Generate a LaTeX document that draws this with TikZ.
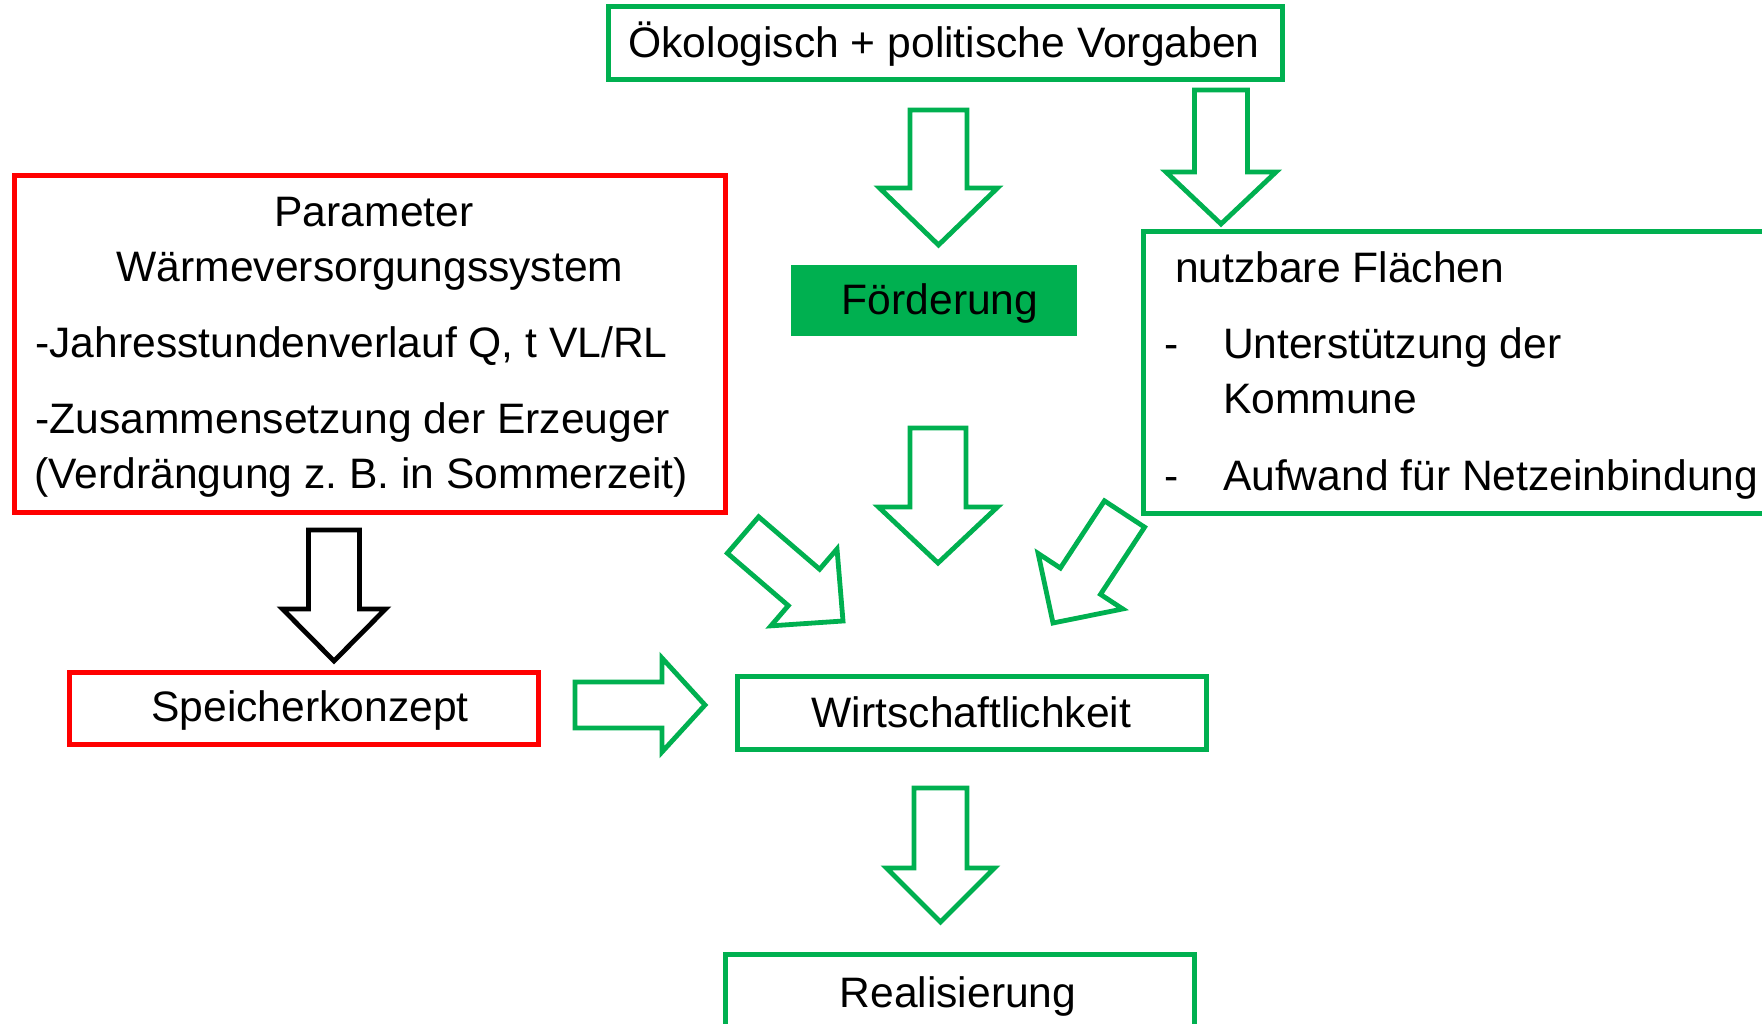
\documentclass[tikz,border=0pt]{standalone}
\usepackage{fontspec}
\setmainfont{Liberation Sans}
\usetikzlibrary{calc}
\definecolor{pgreen}{HTML}{00B050}
\definecolor{pred}{HTML}{FF0000}
\newcommand\blockarrow[6]{% #1 style, #2 tail, #3 tip, #4 shaft half width, #5 head half width, #6 head length
  \coordinate (ba) at ($(#3)!#6!(#2)$);
  \draw[#1] ($(#2)!#4!90:(#3)$) -- ($(ba)!#4!90:(#3)$) -- ($(ba)!#5!90:(#3)$) -- (#3)
    -- ($(ba)!#5!-90:(#3)$) -- ($(ba)!#4!-90:(#3)$) -- ($(#2)!#4!-90:(#3)$) -- cycle;}
\tikzset{
  every node/.style={font=\fontsize{42.6}{50}\selectfont\frenchspacing},
  gbox/.style={draw=pgreen, line width=5pt, rectangle, inner sep=0pt, outer sep=0pt},
  rbox/.style={draw=pred, line width=5pt, rectangle, inner sep=0pt, outer sep=0pt},
  fbox/.style={draw=pgreen, fill=pgreen, line width=1pt, rectangle, inner sep=0pt, outer sep=0pt},
  txt/.style={inner sep=0pt, outer sep=0pt, text=black},
  garrow/.style={draw=pgreen, line width=4.8pt, fill=white, line join=miter},
  karrow/.style={draw=black, line width=4.8pt, fill=white, line join=miter},
}
\begin{document}
\begin{tikzpicture}[x=1pt, y=-1pt]
\useasboundingbox (0,0) rectangle (1762,1024);
\clip (0,0) rectangle (1762,1024);
\fill[white] (0,0) rectangle (1762,1024);

% boxes
\node[gbox, minimum width=674pt, minimum height=73pt] (vorg) at (945,43.5) {};
\node[rbox, minimum width=711pt, minimum height=336pt] (param) at (369.5,344) {};
\node[fbox, minimum width=285pt, minimum height=70pt] (foerd) at (933.5,301) {};
\node[gbox, minimum width=657pt, minimum height=281pt] (flaech) at (1471.5,372.5) {};
\node[rbox, minimum width=469pt, minimum height=72pt] (speich) at (303.5,708) {};
\node[gbox, minimum width=469pt, minimum height=73pt] (wirt) at (971.5,712.5) {};
\node[gbox, minimum width=469pt, minimum height=74pt] (real) at (959.5,991) {};

% texts
\node[txt, anchor=base] (tvorg) at (944,58) {Ökologisch + politische Vorgaben};
\node[txt, anchor=base] (tpar1) at (374,227) {Parameter};
\node[txt, anchor=base] (tpar2) at (370,282) {Wärmeversorgungssystem};
\node[txt, anchor=base west] (tpar3) at (35.5,358) {-Jahresstundenverlauf Q, t VL/RL};
\node[txt, anchor=base west] (tpar4) at (35.5,433) {-Zusammensetzung der Erzeuger};
\node[txt, anchor=base west] (tpar5) at (34.5,488) {(Verdrängung z.\ B. in Sommerzeit)};
\node[txt, anchor=base] (tfoerd) at (940,315) {Förderung};
\node[txt, anchor=base west] (tfl1) at (1175,283) {nutzbare Flächen};
\node[txt, anchor=base west] (tfl2d) at (1164,359) {-};
\node[txt, anchor=base west] (tfl2) at (1223,359) {Unterstützung der};
\node[txt, anchor=base west] (tfl3) at (1223,413) {Kommune};
\node[txt, anchor=base west] (tfl4d) at (1164,490) {-};
\node[txt, anchor=base west] (tfl4) at (1223,490) {Aufwand für Netzeinbindung};
\node[txt, anchor=base] (tspeich) at (310,721) {Speicherkonzept};
\node[txt, anchor=base] (twirt) at (971.5,727) {Wirtschaftlichkeit};
\node[txt, anchor=base] (treal) at (958,1007) {Realisierung};

% arrow end points
\coordinate (aT) at (938.5,110);  \coordinate (aH) at (938.5,245);
\coordinate (bT) at (1221,90);    \coordinate (bH) at (1221,224);
\coordinate (cT) at (938,428);    \coordinate (cH) at (938,563);
\coordinate (dT) at (743,535);    \coordinate (dH) at (843,621);
\coordinate (eT) at (1124.5,514); \coordinate (eH) at (1053,623);
\coordinate (fT) at (334,530);    \coordinate (fH) at (334,661);
\coordinate (gT) at (575,705);    \coordinate (gH) at (705,705);
\coordinate (hT) at (940.5,788);  \coordinate (hH) at (940.5,922);

% block arrows
\blockarrow{garrow}{aT}{aH}{28.5pt}{59pt}{57pt}
\blockarrow{garrow}{bT}{bH}{26.5pt}{55pt}{52pt}
\blockarrow{garrow}{cT}{cH}{28pt}{59.5pt}{56pt}
\blockarrow{garrow}{dT}{dH}{24pt}{50.7pt}{51.5pt}
\blockarrow{garrow}{eT}{eH}{24pt}{50.6pt}{50pt}
\blockarrow{karrow}{fT}{fH}{25.5pt}{51.5pt}{52pt}
\blockarrow{garrow}{gT}{gH}{23pt}{47pt}{43pt}
\blockarrow{garrow}{hT}{hH}{26.5pt}{54pt}{54pt}
\end{tikzpicture}
\end{document}
